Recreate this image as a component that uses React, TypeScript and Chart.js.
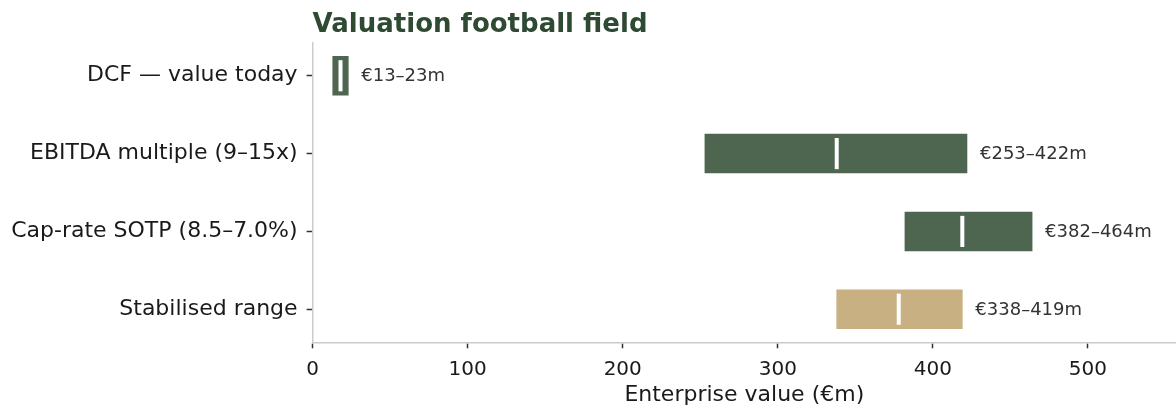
import React, { useEffect, useRef } from "react";
import { Chart, registerables } from "chart.js";

Chart.register(...registerables);

const chartTitle = "Valuation football field";
const categories = [
  "DCF — value today",
  "EBITDA multiple (9–15x)",
  "Cap-rate SOTP (8.5–7.0%)",
  "Stabilised range",
];
const lowValues = [13, 253, 382, 338];
const highValues = [23, 422, 464, 419];
const centralValues = [18, 338, 419, 378];
const barColors = ["#4e6650", "#4e6650", "#4e6650", "#c8b083"];
const xAxisTitle = "Enterprise value (€m)";
const xMin = 0;
const xMax = 556.8;
const xStep = 100;

const FONT = '"DejaVu Sans", "Liberation Sans", sans-serif';

export default function App() {
  const canvasRef = useRef<HTMLCanvasElement | null>(null);

  useEffect(() => {
    if (!canvasRef.current) return;
    Chart.defaults.font.family = FONT;

    const overlay = {
      id: "overlay",
      afterDatasetsDraw(chart: any) {
        const ctx = chart.ctx;
        const xs = chart.scales.x;
        const ys = chart.scales.y;
        const spacing = Math.abs(ys.getPixelForValue(1) - ys.getPixelForValue(0));
        ctx.save();
        categories.forEach((_, i) => {
          const cy = ys.getPixelForValue(i);
          const cx = xs.getPixelForValue(centralValues[i]);
          ctx.strokeStyle = "#ffffff";
          ctx.lineWidth = 4;
          ctx.beginPath();
          ctx.moveTo(cx, cy - spacing * 0.2);
          ctx.lineTo(cx, cy + spacing * 0.2);
          ctx.stroke();
          ctx.fillStyle = "#333333";
          ctx.font = `18px ${FONT}`;
          ctx.textAlign = "left";
          ctx.textBaseline = "middle";
          ctx.fillText(
            `€${lowValues[i]}–${highValues[i]}m`,
            xs.getPixelForValue(highValues[i]) + 13,
            cy + 1
          );
        });
        ctx.restore();
      },
      afterDraw(chart: any) {
        const ctx = chart.ctx;
        ctx.save();
        ctx.fillStyle = "#2e4a32";
        ctx.font = `bold 26px ${FONT}`;
        ctx.textAlign = "left";
        ctx.textBaseline = "alphabetic";
        ctx.fillText(chartTitle, chart.chartArea.left, 31.5);
        ctx.restore();
      },
    };

    const chart = new Chart(canvasRef.current, {
      type: "bar",
      data: {
        datasets: [
          {
            data: categories.map((_, i) => ({ x: [lowValues[i], highValues[i]], y: i })) as any,
            backgroundColor: barColors,
            barThickness: 38.9,
            borderWidth: 0,
          },
        ],
      },
      options: {
        indexAxis: "y",
        responsive: false,
        animation: false,
        layout: { padding: { top: 42.7, left: 0, right: 0, bottom: 0 } },
        plugins: {
          legend: { display: false },
          tooltip: { enabled: false },
          title: { display: false },
        },
        scales: {
          x: {
            type: "linear",
            position: "bottom",
            min: xMin,
            max: xMax,
            offset: false,
            ticks: {
              stepSize: xStep,
              includeBounds: false,
              color: "#1a1a1a",
              font: { size: 20, family: FONT },
              padding: 9,
              maxRotation: 0,
              autoSkip: false,
            },
            grid: {
              offset: false,
              drawOnChartArea: false,
              drawTicks: true,
              tickLength: 6,
              tickColor: "#333333",
              tickWidth: 1.5,
            },
            border: { display: true, color: "#cccccc", width: 1.5 },
            title: {
              display: true,
              text: xAxisTitle,
              color: "#1a1a1a",
              font: { size: 22, family: FONT },
              padding: { top: 4, bottom: 4 },
            },
            afterFit: (s: any) => {
              s.height = 69.7;
            },
          },
          y: {
            type: "linear",
            position: "left",
            reverse: true,
            offset: false,
            min: -0.425,
            max: 3.425,
            afterBuildTicks: (s: any) => {
              s.ticks = categories.map((_, i) => ({ value: i }));
            },
            ticks: {
              callback: (v: any) => categories[v] ?? "",
              color: "#1a1a1a",
              font: { size: 22, family: FONT },
              padding: 9,
              autoSkip: false,
            },
            grid: {
              offset: false,
              drawOnChartArea: false,
              drawTicks: true,
              tickLength: 6,
              tickColor: "#333333",
              tickWidth: 1.5,
            },
            border: { display: true, color: "#cccccc", width: 1.5 },
            afterFit: (s: any) => {
              s.width = 312.6;
            },
          },
        },
      },
      plugins: [overlay],
    });

    return () => chart.destroy();
  }, []);

  return (
    <div style={{ position: "absolute", left: 0, top: 0, width: 1176, height: 412, background: "#ffffff" }}>
      <canvas ref={canvasRef} width={1176} height={412} style={{ display: "block" }} />
    </div>
  );
}
